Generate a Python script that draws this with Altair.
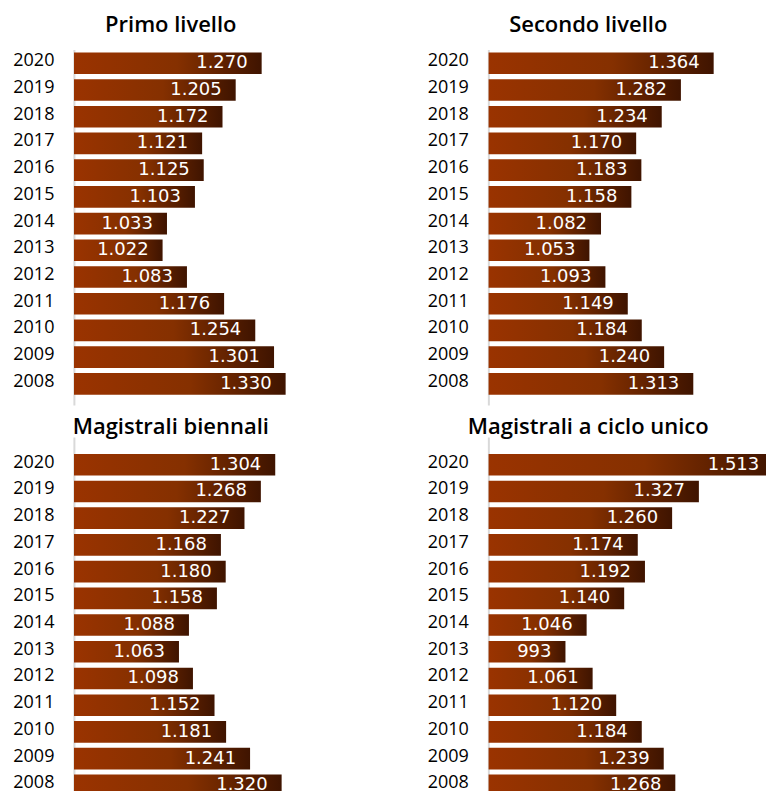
import altair as alt
import pandas as pd

years = [2020, 2019, 2018, 2017, 2016, 2015, 2014, 2013, 2012, 2011, 2010, 2009, 2008]
primo = [1270, 1205, 1172, 1121, 1125, 1103, 1033, 1022, 1083, 1176, 1254, 1301, 1330]
secondo = [1364, 1282, 1234, 1170, 1183, 1158, 1082, 1053, 1093, 1149, 1184, 1240, 1313]
biennali = [1304, 1268, 1227, 1168, 1180, 1158, 1088, 1063, 1098, 1152, 1181, 1241, 1320]
ciclo = [1513, 1327, 1260, 1174, 1192, 1140, 1046, 993, 1061, 1120, 1184, 1239, 1268]
titles = ["Primo livello", "Secondo livello", "Magistrali biennali", "Magistrali a ciclo unico"]

year_labels = [str(y) for y in years]
PX_PER_UNIT = 0.4
XMIN = 800

grad = alt.LinearGradient(
    gradient="linear",
    stops=[
        alt.GradientStop(color="#9a3300", offset=0),
        alt.GradientStop(color="#853000", offset=0.55),
        alt.GradientStop(color="#3f1400", offset=1),
    ],
    x1=0, x2=1, y1=0, y2=0,
)


def fmt(v):
    return f"{v:,}".replace(",", ".")


def panel(values, title, w, h, title_dx):
    df = pd.DataFrame({"anno": year_labels, "v": values, "lab": [fmt(v) for v in values]})
    xs = alt.Scale(domain=[XMIN, XMIN + w / PX_PER_UNIT], nice=False, zero=False)
    ys = alt.Scale(range=[0, 356], paddingInner=0.19, paddingOuter=0.249, align=0.225)
    base = alt.Chart(df).encode(
        y=alt.Y(
            "anno:N",
            sort=year_labels,
            scale=ys,
            axis=alt.Axis(
                title=None, domain=False, ticks=False, labelPadding=20,
                labelFontSize=18, labelFont="Open Sans", labelColor="#000000",
                labelOffset=-2,
            ),
        )
    )
    bars = base.mark_bar(color=grad, clip=True).encode(
        x=alt.X(
            "v:Q",
            scale=xs,
            axis=alt.Axis(
                values=[XMIN], grid=True, labels=False, ticks=False, domain=False,
                title=None, gridColor="#d9d9d9", gridWidth=2,
            ),
        ),
        x2=alt.datum(XMIN),
    )
    text = base.mark_text(
        align="right", baseline="middle", dx=-14, color="white",
        font="DejaVu Sans", fontSize=18, clip=True,
    ).encode(x=alt.X("v:Q", scale=xs), text="lab:N")
    return alt.layer(bars, text).properties(
        width=w,
        height=h,
        title=alt.TitleParams(
            text=title, font="Open Sans", fontSize=22, fontWeight=600,
            color="#000000", anchor="middle", dx=title_dx, offset=12,
        ),
    )


tl = panel(primo, titles[0], 280, 356, -43)
tr = panel(secondo, titles[1], 278, 356, -39)
bl = panel(biennali, titles[2], 280, 342, -43)
br = panel(ciclo, titles[3], 278, 342, -39)

chart = (
    alt.vconcat(
        alt.hconcat(tl, tr, spacing=73),
        alt.hconcat(bl, br, spacing=73),
        spacing=11,
    )
    .configure_view(stroke=None)
    .properties(padding={"left": 12, "top": 14, "right": 0, "bottom": 0})
)

chart.save("out.html", embed_options={"renderer": "svg", "actions": False})
